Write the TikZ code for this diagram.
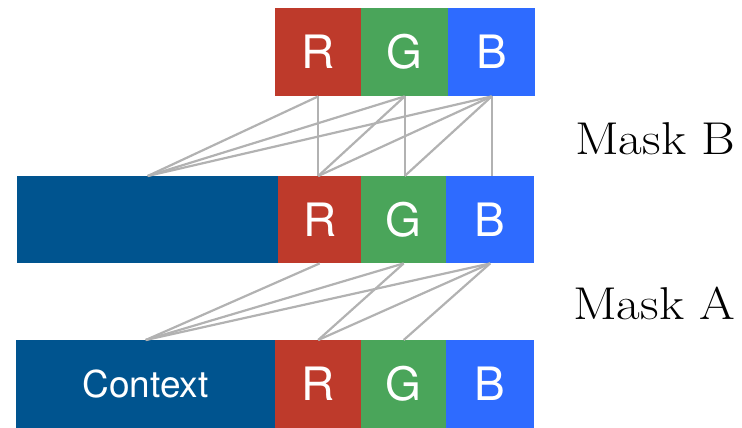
\documentclass[tikz,border=0pt]{standalone}
\usepackage{fontspec}
\usepackage{graphicx}
\setsansfont{TeX Gyre Heros}
\definecolor{cred}{RGB}{190,58,43}
\definecolor{cgreen}{RGB}{74,165,90}
\definecolor{cblue}{RGB}{46,107,255}
\definecolor{cctx}{RGB}{0,84,143}
\definecolor{clink}{RGB}{178,178,178}
\tikzset{
  cell/.style={anchor=north west, inner sep=0pt, text=white,
    font=\sffamily\fontsize{46}{50}\selectfont},
  ctxcell/.style={cell, fill=cctx, font=\sffamily\fontsize{37}{40}\selectfont},
  link/.style={draw=clink, line width=2.2pt},
  masklabel/.style={anchor=base west, inner sep=0pt,
    font=\fontsize{46}{50}\selectfont}
}
\begin{document}
\begin{tikzpicture}[x=1pt,y=-1pt]
\useasboundingbox (0,0) rectangle (742,428);

% top layer
\node[cell, fill=cred,   minimum width=86pt, minimum height=88pt] (tR) at (275,8) {R};
\node[cell, fill=cgreen, minimum width=87pt, minimum height=88pt] (tG) at (361,8) {G};
\node[cell, fill=cblue,  minimum width=87pt, minimum height=88pt] (tB) at (448,8) {B};

% middle layer
\node[ctxcell, minimum width=261pt, minimum height=87pt] (mC) at (17,176) {};
\node[cell, fill=cred,   minimum width=83pt, minimum height=87pt] (mR) at (278,176) {R};
\node[cell, fill=cgreen, minimum width=85pt, minimum height=87pt] (mG) at (361,176) {G};
\node[cell, fill=cblue,  minimum width=88pt, minimum height=87pt] (mB) at (446,176) {B};

% bottom layer
\node[ctxcell, minimum width=259pt, minimum height=88pt] (bC) at (16,340) {Context};
\node[cell, fill=cred,   minimum width=86pt, minimum height=88pt] (bR) at (275,340) {R};
\node[cell, fill=cgreen, minimum width=85pt, minimum height=88pt] (bG) at (361,340) {G};
\node[cell, fill=cblue,  minimum width=88pt, minimum height=88pt] (bB) at (446,340) {B};

% attachment points on the middle layer, aligned under the top cells
\coordinate (mRin) at (tR.south |- mR.north);
\coordinate (mGin) at (tG.south |- mG.north);
\coordinate (mBin) at (tB.south |- mB.north);

% mask B connections (channel sees itself)
\draw[link] (tR.south) -- (mC.north);
\draw[link] (tR.south) -- (mRin);
\draw[link] (tG.south) -- (mC.north);
\draw[link] (tG.south) -- (mRin);
\draw[link] (tG.south) -- (mGin);
\draw[link] (tB.south) -- (mC.north);
\draw[link] (tB.south) -- (mRin);
\draw[link] (tB.south) -- (mGin);
\draw[link] (tB.south) -- (mBin);

% mask A connections (strictly earlier channels)
\draw[link] (mR.south) -- (bC.north);
\draw[link] (mG.south) -- (bC.north);
\draw[link] (mG.south) -- (bR.north);
\draw[link] (mB.south) -- (bC.north);
\draw[link] (mB.south) -- (bR.north);
\draw[link] (mB.south) -- (bG.north);

% labels
\node[masklabel] (lblB) at (575,154) {\scalebox{1.12}[1]{Mask B}};
\node[masklabel] (lblA) at (573,319) {\scalebox{1.12}[1]{Mask A}};
\end{tikzpicture}
\end{document}
